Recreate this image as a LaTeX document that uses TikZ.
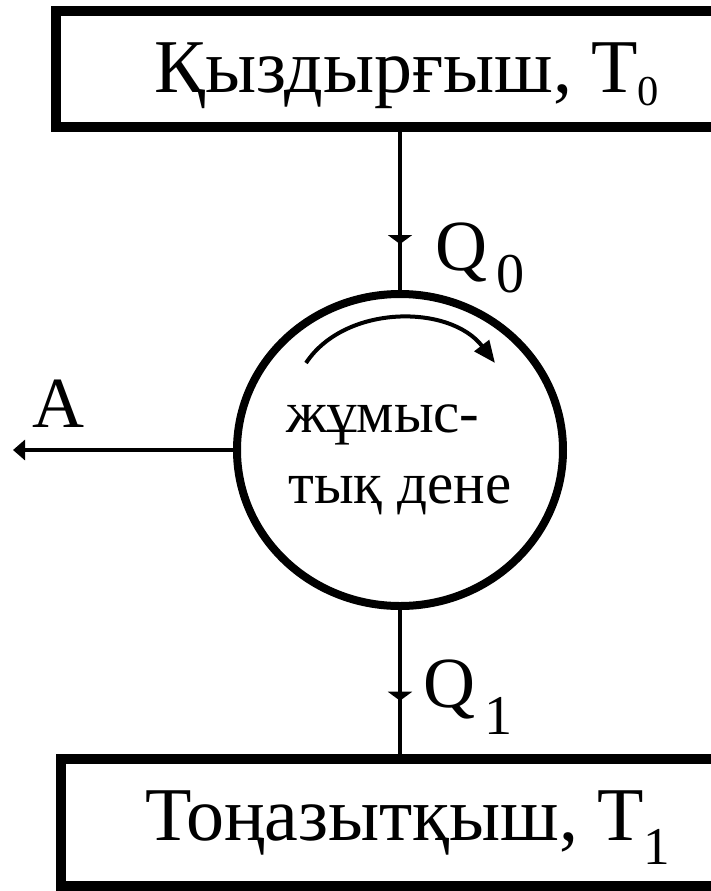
\documentclass[tikz,border=0pt]{standalone}
\usepackage{fontspec}
\setmainfont{Liberation Serif}
\usepackage{tikz}
\usetikzlibrary{arrows.meta,shapes.geometric,decorations.markings}
\tikzstyle{reservoir}=[rectangle, draw, line width=5pt, inner sep=0pt]
\tikzstyle{bodysty}=[ellipse, draw, line width=4pt, inner sep=0pt, minimum width=163pt, minimum height=156pt]
\tikzstyle{bodytext}=[anchor=base west, inner sep=0pt, font=\fontsize{29.5}{35.5}\selectfont]
\tikzstyle{boxtext}=[anchor=base west, inner sep=0pt, font=\fontsize{38}{40}\selectfont]
\tikzstyle{labelsty}=[anchor=base west, inner sep=0pt, font=\fontsize{36}{38}\selectfont]
\tikzstyle{flow}=[line width=2pt, postaction={decorate}]
\tikzstyle{dedge}=[line width=2pt, -{Triangle[length=6pt,width=10pt]}]
\newcommand{\idx}[3]{\raisebox{-#1}{\scalebox{#2}{#3}}}

\begin{document}
\begin{tikzpicture}[x=0.5pt,y=-0.5pt]
			\clip (0,0) rectangle (711,891);
			\node[reservoir, minimum width=372pt, minimum height=58pt] (hot) at (428,68.5) {};
			\node[reservoir, minimum width=369.75pt, minimum height=63.5pt] (cold) at (430.25,822.5) {};
			\node[bodysty] (body) at (400,450) {};
			\node[bodytext] (work1) at (286,432) {жұмыс-};
			\node[bodytext] (work2) at (288,503) {тық дене};
			\node[boxtext] (hotname) at (154,92) {Қыздырғыш, T\idx{0.18em}{0.56}{0}};
			\node[boxtext] (coldname) at (145,840) {Тоңазытқыш, T\idx{0.32em}{0.7}{1}};
			\coordinate (out) at (13,450);
			
			\draw[flow, decoration={markings, mark=at position 0.71 with {\arrow{Triangle[length=4.5pt,width=12pt]}}}] (body.north |- hot.south) -- (body.north);
			\draw[flow, decoration={markings, mark=at position 0.63 with {\arrow{Triangle[length=4.5pt,width=12pt]}}}] (body.south) -- (body.south |- cold.north);
			\draw[dedge] (body.west) -- (out);
			\draw[line width=2pt, -{Triangle[length=11pt,width=9pt]}] (306,363) .. controls (345,304) and (450,304) .. (495,363);
			
			\node[labelsty] (q0) at (435,270) {Q\hspace{0.12em}\idx{0.31em}{0.78}{0}};
			\node[labelsty] (q1) at (423,707) {Q\hspace{0.12em}\idx{0.38em}{0.78}{1}};
			\node[labelsty] (a) at (32,427) {A};
		\end{tikzpicture}
\end{document}
